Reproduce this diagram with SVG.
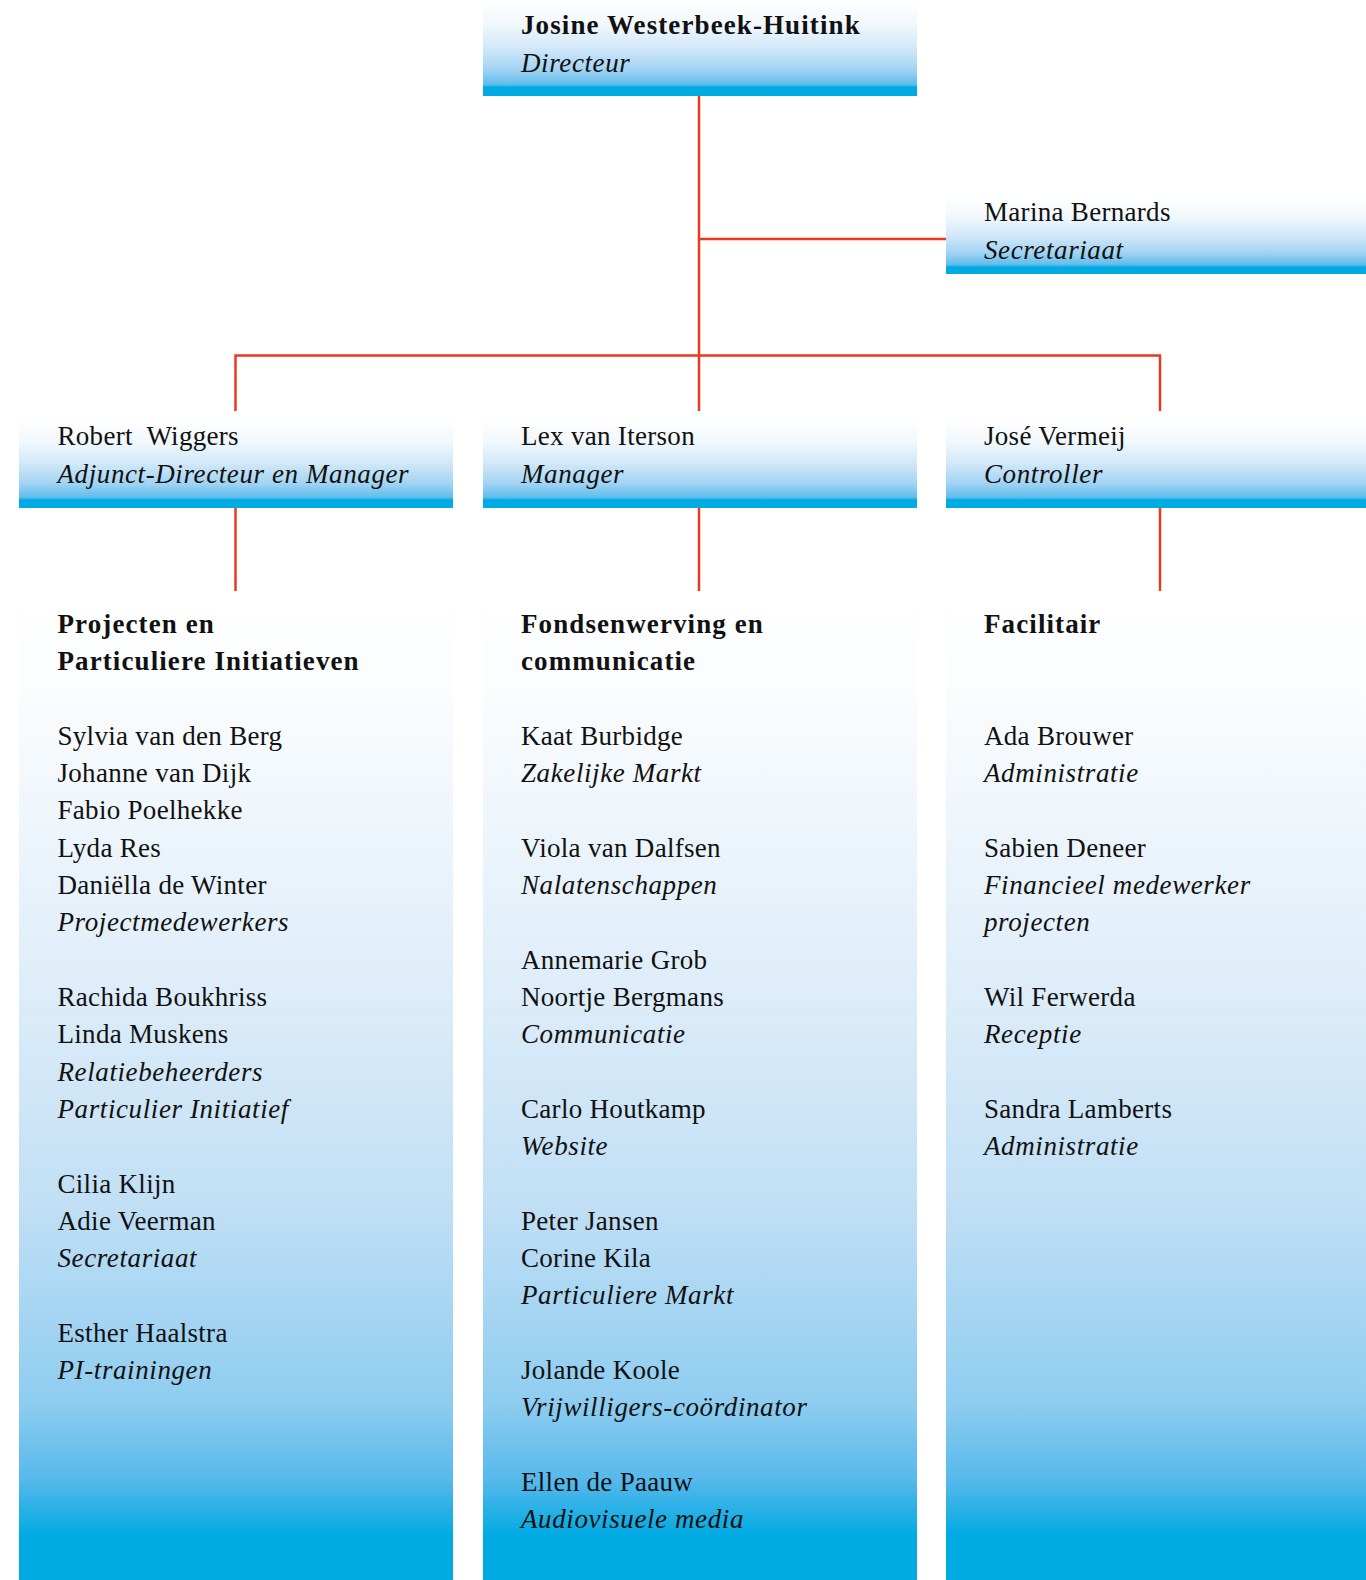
<svg xmlns="http://www.w3.org/2000/svg" width="1366" height="1580" viewBox="0 0 1366 1580">
<defs>
<linearGradient id="gHead" x1="0" y1="0" x2="0" y2="1">
<stop offset="0" stop-color="#ffffff"/>
<stop offset="0.25" stop-color="#f2f8fd"/>
<stop offset="0.5" stop-color="#d2e8f8"/>
<stop offset="0.72" stop-color="#a3d4f3"/>
<stop offset="0.88" stop-color="#5fbdec"/>
<stop offset="0.91" stop-color="#00aae3"/>
<stop offset="1" stop-color="#00aae3"/>
</linearGradient>
<linearGradient id="gCol" x1="0" y1="0" x2="0" y2="1">
<stop offset="0" stop-color="#ffffff"/>
<stop offset="0.11" stop-color="#fafcfe"/>
<stop offset="0.4" stop-color="#deedf9"/>
<stop offset="0.62" stop-color="#c1dff5"/>
<stop offset="0.82" stop-color="#8fcdf0"/>
<stop offset="0.9" stop-color="#55b8eb"/>
<stop offset="0.955" stop-color="#00aae3"/>
<stop offset="1" stop-color="#00aae3"/>
</linearGradient>
</defs>
<style>
text{font-family:"Liberation Serif","Times New Roman",serif;font-size:27px;fill:#111;letter-spacing:0.3px}
.b{font-weight:bold;letter-spacing:1.1px}
.i{font-style:italic;letter-spacing:0.6px}
.pre{white-space:pre}
.hd{fill:url(#gHead)}
.col{fill:url(#gCol)}
.con{stroke:#e63b1f;stroke-width:2.5;fill:none}
</style>
<rect width="1366" height="1580" fill="#ffffff"/>

<g id="connectors">
<line class="con" x1="699" y1="96" x2="699" y2="411"/>
<line class="con" x1="699" y1="239" x2="946" y2="239"/>
<polyline class="con" points="235.5,411 235.5,355.5 1160,355.5 1160,411"/>
<line class="con" x1="235.5" y1="508" x2="235.5" y2="591"/>
<line class="con" x1="699" y1="508" x2="699" y2="591"/>
<line class="con" x1="1160" y1="508" x2="1160" y2="591"/>
</g>

<g id="director">
<rect class="hd" x="483" y="0" width="434" height="96"/>
<text class="b" x="521" y="34">Josine Westerbeek-Huitink</text>
<text class="i" x="521" y="71.5">Directeur</text>
</g>

<g id="secretariaat">
<rect class="hd" x="946" y="197" width="420" height="77"/>
<text x="984" y="221">Marina Bernards</text>
<text class="i" x="984" y="258.5">Secretariaat</text>
</g>

<g id="wiggers">
<rect class="hd" x="19" y="419" width="434" height="89"/>
<text class="pre" x="57.5" y="445">Robert  Wiggers</text>
<text class="i" x="57.5" y="482.5">Adjunct-Directeur en Manager</text>
</g>

<g id="iterson">
<rect class="hd" x="483" y="419" width="434" height="89"/>
<text x="521" y="445">Lex van Iterson</text>
<text class="i" x="521" y="482.5">Manager</text>
</g>

<g id="vermeij">
<rect class="hd" x="946" y="419" width="420" height="89"/>
<text x="984" y="445">José Vermeij</text>
<text class="i" x="984" y="482.5">Controller</text>
</g>

<g id="projecten">
<rect class="col" x="19" y="591" width="434" height="989"/>
<text class="b" x="57.5" y="632.5">Projecten en</text>
<text class="b" x="57.5" y="669.8">Particuliere Initiatieven</text>
<text x="57.5" y="744.5">Sylvia van den Berg</text>
<text x="57.5" y="781.8">Johanne van Dijk</text>
<text x="57.5" y="819.2">Fabio Poelhekke</text>
<text x="57.5" y="856.5">Lyda Res</text>
<text x="57.5" y="893.8">Daniëlla de Winter</text>
<text class="i" x="57.5" y="931.1">Projectmedewerkers</text>
<text x="57.5" y="1005.8">Rachida Boukhriss</text>
<text x="57.5" y="1043.1">Linda Muskens</text>
<text class="i" x="57.5" y="1080.5">Relatiebeheerders</text>
<text class="i" x="57.5" y="1117.8">Particulier Initiatief</text>
<text x="57.5" y="1192.5">Cilia Klijn</text>
<text x="57.5" y="1229.8">Adie Veerman</text>
<text class="i" x="57.5" y="1267.1">Secretariaat</text>
<text x="57.5" y="1341.8">Esther Haalstra</text>
<text class="i" x="57.5" y="1379.1">PI-trainingen</text>
</g>

<g id="fondsenwerving">
<rect class="col" x="483" y="591" width="434" height="989"/>
<text class="b" x="521" y="632.5">Fondsenwerving en</text>
<text class="b" x="521" y="669.8">communicatie</text>
<text x="521" y="744.5">Kaat Burbidge</text>
<text class="i" x="521" y="781.8">Zakelijke Markt</text>
<text x="521" y="856.5">Viola van Dalfsen</text>
<text class="i" x="521" y="893.8">Nalatenschappen</text>
<text x="521" y="968.5">Annemarie Grob</text>
<text x="521" y="1005.8">Noortje Bergmans</text>
<text class="i" x="521" y="1043.1">Communicatie</text>
<text x="521" y="1117.8">Carlo Houtkamp</text>
<text class="i" x="521" y="1155.1">Website</text>
<text x="521" y="1229.8">Peter Jansen</text>
<text x="521" y="1267.1">Corine Kila</text>
<text class="i" x="521" y="1304.4">Particuliere Markt</text>
<text x="521" y="1379.1">Jolande Koole</text>
<text class="i" x="521" y="1416.4">Vrijwilligers-coördinator</text>
<text x="521" y="1491.1">Ellen de Paauw</text>
<text class="i" x="521" y="1528.4">Audiovisuele media</text>
</g>

<g id="facilitair">
<rect class="col" x="946" y="591" width="420" height="989"/>
<text class="b" x="984" y="632.5">Facilitair</text>
<text x="984" y="744.5">Ada Brouwer</text>
<text class="i" x="984" y="781.8">Administratie</text>
<text x="984" y="856.5">Sabien Deneer</text>
<text class="i" x="984" y="893.8">Financieel medewerker</text>
<text class="i" x="984" y="931.1">projecten</text>
<text x="984" y="1005.8">Wil Ferwerda</text>
<text class="i" x="984" y="1043.1">Receptie</text>
<text x="984" y="1117.8">Sandra Lamberts</text>
<text class="i" x="984" y="1155.1">Administratie</text>
</g>
</svg>
